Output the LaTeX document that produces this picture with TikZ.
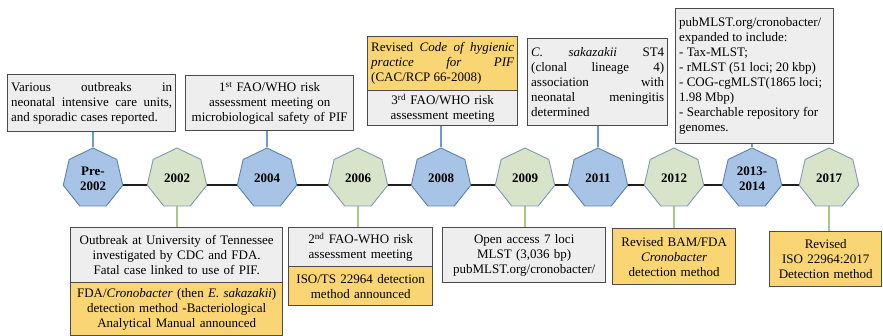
\documentclass[tikz,border=0pt]{standalone}
\usepackage{fontspec}
\setmainfont{Liberation Serif}
\usetikzlibrary{shapes.geometric,backgrounds}

\definecolor{blueFill}{HTML}{A7C4E6}
\definecolor{blueLine}{HTML}{5B83B0}
\definecolor{greenFill}{HTML}{D8E4C9}
\definecolor{greenLine}{HTML}{8199B3}
\definecolor{grayFill}{HTML}{EEEEEE}
\definecolor{yellowFill}{HTML}{F9D673}
\definecolor{boxLine}{HTML}{4A4A4A}
\definecolor{upLine}{HTML}{6A9AD0}
\definecolor{downLine}{HTML}{A6CB88}
\definecolor{axisLine}{HTML}{1E1E1E}

\tikzset{
  hept/.style={regular polygon, regular polygon sides=7, minimum size=61pt,
    inner sep=0pt, line width=0.9pt, align=center,
    font=\fontsize{13}{15}\selectfont\bfseries},
  heptblue/.style={hept, draw=blueLine, fill=blueFill},
  heptgreen/.style={hept, draw=greenLine, fill=greenFill},
  infobox/.style={draw=boxLine, line width=1.4pt, inner xsep=3.5pt, inner ysep=1pt,
    anchor=north west, font=\fontsize{13}{15}\selectfont},
  graybox/.style={infobox, fill=grayFill},
  yellowbox/.style={infobox, fill=yellowFill},
  upconn/.style={draw=upLine, line width=1.6pt},
  downconn/.style={draw=downLine, line width=1.6pt},
  axis/.style={draw=axisLine, line width=2.6pt}
}

\begin{document}
\hyphenpenalty=10000\relax
\begin{tikzpicture}[x=1pt, y=-1pt]
\useasboundingbox (0,0) rectangle (883,336);

% timeline milestones
\node[heptblue]  (h1)  at (93,178.5)  {Pre-\\2002};
\node[heptgreen] (h2)  at (177,178.5) {2002};
\node[heptblue]  (h3)  at (267,178.5) {2004};
\node[heptgreen] (h4)  at (358,178.5) {2006};
\node[heptblue]  (h5)  at (441,178.5) {2008};
\node[heptgreen] (h6)  at (525,178.5) {2009};
\node[heptblue]  (h7)  at (598,178.5) {2011};
\node[heptgreen] (h8)  at (674,178.5) {2012};
\node[heptblue]  (h9)  at (752,178.5) {2013-\\2014};
\node[heptgreen] (h10) at (829,178.5) {2017};

% axis segments behind the milestones
\begin{scope}[on background layer]
  \foreach \a/\b in {h1/h2,h2/h3,h3/h4,h4/h5,h5/h6,h6/h7,h7/h8,h8/h9,h9/h10}
    \draw[axis] ([yshift=-6.5pt]\a.center) -- ([yshift=-6.5pt]\b.center);
\end{scope}

% events above the axis
\node[graybox, align=justify, text width=161pt, minimum height=57pt] (tA) at (7,74)
  {Various outbreaks in\linebreak neonatal intensive care units,\linebreak and sporadic cases reported.};
\node[graybox, align=center, text width=161pt, minimum height=55pt] (tB) at (185,75)
  {1\textsuperscript{st} FAO/WHO risk\\ assessment meeting on\\ microbiological safety of PIF};
\node[yellowbox, align=justify, text width=143pt, minimum height=54pt] (tC1) at (367,36)
  {Revised \textit{Code of hygienic}\linebreak \textit{practice for PIF}\linebreak (CAC/RCP 66-2008)};
\node[graybox, align=center, text width=143pt, minimum height=35pt] (tC2) at (367,90)
  {3\textsuperscript{rd} FAO/WHO risk\\ assessment meeting};
\node[graybox, align=justify, text width=133pt, minimum height=87pt] (tD) at (527,38)
  {\textit{C. sakazakii} ST4\linebreak (clonal lineage 4)\linebreak association with\linebreak neonatal meningitis\linebreak determined};
\node[graybox, align=flush left, text width=151pt, minimum height=135pt] (tE) at (675,8)
  {pubMLST.org/cronobacter/\\ expanded to include:\\ - Tax-MLST;\\ - rMLST (51 loci; 20 kbp)\\ - COG-cgMLST(1865 loci;\\ 1.98 Mbp)\\ - Searchable repository for\\ genomes.};

% events below the axis
\node[graybox, align=center, text width=205pt, minimum height=55pt] (bF1) at (70,227)
  {Outbreak at University of Tennessee\\ investigated by CDC and FDA.\\ Fatal case linked to use of PIF.};
\node[yellowbox, align=center, text width=205pt, minimum height=53pt] (bF2) at (70,282)
  {FDA/\textit{Cronobacter} (then \textit{E. sakazakii})\\ detection method -Bacteriological\\ Analytical Manual announced};
\node[graybox, align=center, text width=137pt, minimum height=39pt] (bG1) at (288,227)
  {2\textsuperscript{nd} FAO-WHO risk\\ assessment meeting};
\node[yellowbox, align=center, text width=137pt, minimum height=39pt] (bG2) at (288,266)
  {ISO/TS 22964 detection\\ method announced};
\node[graybox, align=center, text width=156pt, minimum height=55pt] (bH) at (442,227)
  {Open access 7 loci\\ MLST (3,036 bp)\\ pubMLST.org/cronobacter/};
\node[yellowbox, align=center, text width=116pt, minimum height=56pt] (bI) at (612,228)
  {Revised BAM/FDA\\ \textit{Cronobacter}\\ detection method};
\node[yellowbox, align=center, text width=105pt, minimum height=55pt] (bJ) at (769,231)
  {Revised\\ ISO 22964:2017\\ Detection method};

% stems joining boxes to milestones
\begin{scope}[on background layer]
  \draw[upconn] (h1.north) -- (h1.north |- tA.south);
  \draw[upconn] (h3.north) -- (h3.north |- tB.south);
  \draw[upconn] (h5.north) -- (h5.north |- tC2.south);
  \draw[upconn] (h7.north) -- (h7.north |- tD.south);
  \draw[upconn] (h9.north) -- (h9.north |- tE.south);
  \draw[downconn] (h2.south) -- (h2.south |- bF1.north);
  \draw[downconn] (h4.south) -- (h4.south |- bG1.north);
  \draw[downconn] (h6.south) -- (h6.south |- bH.north);
  \draw[downconn] (h8.south) -- (h8.south |- bI.north);
  \draw[downconn] (h10.south) -- (h10.south |- bJ.north);
\end{scope}
\end{tikzpicture}
\end{document}
